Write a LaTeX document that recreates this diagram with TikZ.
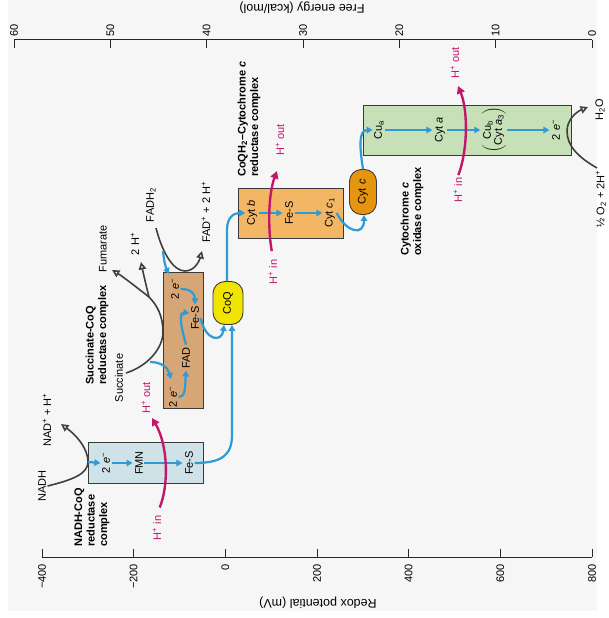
\documentclass[tikz,border=0pt]{standalone}
\usepackage{fontspec}
\setmainfont{Liberation Sans}
\usetikzlibrary{arrows.meta}
\definecolor{bg}{HTML}{F6F6F6}
\definecolor{eblue}{HTML}{2E9AD6}
\definecolor{mag}{HTML}{C2186C}
\definecolor{arcgray}{HTML}{404040}
\definecolor{boxline}{HTML}{3A3A3A}
\definecolor{nadhfill}{HTML}{CFE2E8}
\definecolor{succfill}{HTML}{D7A676}
\definecolor{cytbfill}{HTML}{F3B664}
\definecolor{cytcfill}{HTML}{E5950F}
\definecolor{coqfill}{HTML}{F0E400}
\definecolor{oxfill}{HTML}{C7E0B7}
\begin{document}
\begin{tikzpicture}[x=1pt,y=-1pt,
  lbl/.style={rotate=90,font=\fontsize{11}{12}\selectfont,inner sep=1.5pt},
  blbl/.style={rotate=90,font=\fontsize{11}{12.5}\selectfont\bfseries,align=left,inner sep=0pt},
  hlbl/.style={lbl,text=mag},
  barr/.style={draw=eblue,line width=2.2pt,-{Triangle[length=6pt,width=6.5pt]}},
  harr/.style={draw=mag,line width=2.4pt,-{Triangle[length=7.5pt,width=8pt]}},
  carr/.style={draw=arcgray,line width=1.6pt,-{Triangle[open,length=7.5pt,width=7.5pt]}},
  cline/.style={draw=arcgray,line width=1.6pt},
  cbox/.style={draw=boxline,line width=0.9pt,inner sep=0pt},
  pill/.style={draw=boxline,line width=0.9pt,rotate=90,rounded corners=12pt,font=\fontsize{11}{12}\selectfont,inner sep=0pt},
  axisline/.style={draw=black!85,line width=1pt},
  tick/.style={rotate=90,font=\fontsize{11}{12}\selectfont,inner sep=0pt},
  atitle/.style={rotate=180,font=\fontsize{12.5}{14}\selectfont}
]
\useasboundingbox (0,0) rectangle (609,618);
\fill[bg] (8,0) rectangle (597,611);

% ---------- top axis ----------
\draw[axisline] (14,40) -- (592,40);
\foreach \v [count=\i from 0] in {60,50,40,30,20,10,0}{
  \pgfmathsetmacro{\xx}{14+\i*96.333}
  \draw[axisline] (\xx,40) -- (\xx,48);
  \node[tick,anchor=west] (top\i) at (\xx,37) {\v};
}
\node[atitle] (ftitle) at (302,8) {Free energy (kcal/mol)};

% ---------- bottom axis ----------
\draw[axisline] (42,557) -- (592,557);
\foreach \v [count=\i from 0] in {−400,−200,0,200,400,600,800}{
  \pgfmathsetmacro{\xx}{42+\i*91.667}
  \draw[axisline] (\xx,557) -- (\xx,549);
  \node[tick,anchor=east] (bot\i) at (\xx,564) {\v};
}
\node[atitle] (rtitle) at (318,603) {Redox potential (mV)};

% ---------- NADH-CoQ reductase complex ----------
\node[cbox,fill=nadhfill,minimum width=115pt,minimum height=41pt] (nadhbox) at (145.5,462.5) {};
\node[lbl] (ne) at (106,463) {2 \textit{e}\textsuperscript{−}};
\node[lbl] (fmn) at (139,463) {FMN};
\node[lbl] (nfes) at (189,463) {Fe-S};
\node[lbl] (nadh) at (42,486) {NADH};
\node[lbl] (nadp) at (47,420) {NAD\textsuperscript{+} + H\textsuperscript{+}};
\node[blbl,anchor=west] (nadhlbl) at (92,547) {NADH-CoQ\\reductase\\complex};
\coordinate (nadhapex) at (88,462);
\coordinate (nadhtip) at (61,424);
\draw[carr] (nadh.south) .. controls (72,480) and (88,474) .. (nadhapex) .. controls (88,448) and (76,435) .. (nadhtip);
\draw[barr] (nadhapex) -- (ne.north);
\draw[barr,shorten >=1pt] (ne.south) -- (fmn.north);
\draw[barr,shorten >=1pt] (fmn.south) -- (nfes.north);

% ---------- Succinate-CoQ reductase complex ----------
\node[cbox,fill=succfill,minimum width=40pt,minimum height=136pt] (succbox) at (183,340) {};
\node[lbl] (se1) at (173,397) {2 \textit{e}\textsuperscript{−}};
\node[lbl] (fad) at (186,358) {FAD};
\node[lbl] (se2) at (175,289) {2 \textit{e}\textsuperscript{−}};
\node[lbl] (sfes) at (195,318) {Fe-S};
\node[lbl] (succ) at (119,378) {Succinate};
\node[lbl] (fum) at (103,249) {Fumarate};
\node[lbl] (twoh) at (135,244) {2 H\textsuperscript{+}};
\node[lbl] (fadh2) at (151,205) {FADH\textsubscript{2}};
\node[lbl] (fadp) at (206,212) {FAD\textsuperscript{+} + 2 H\textsuperscript{+}};
\node[blbl,anchor=west] (succlbl) at (97,385) {Succinate-CoQ\\reductase complex};
\coordinate (succs) at (126,373);
\coordinate (succapex) at (163,332);
\coordinate (succbr) at (149,297);
\coordinate (fumtip) at (112,270);
\coordinate (twohtip) at (141,262);
\draw[cline] (succs) .. controls (148,366) and (163,348) .. (succapex) .. controls (163,316) and (157,305) .. (succbr);
\draw[carr] (succbr) .. controls (135,286) and (122,276) .. (fumtip);
\draw[carr] (succbr) .. controls (146,285) and (143,272) .. (twohtip);
\coordinate (fadhs) at (156,228);
\coordinate (fadhapex) at (185,271);
\coordinate (fadptip) at (202,251);
\draw[carr] (fadhs) .. controls (163,255) and (174,271) .. (fadhapex) .. controls (194,271) and (199,262) .. (fadptip);
\coordinate (sa1) at (150,362);
\coordinate (sa1tip) at (171,379);
\draw[barr] (sa1) .. controls (162,362) and (168,368) .. (sa1tip);
\draw[barr] (se1.south) .. controls (185,397) and (185,390) .. (fad.west);
\draw[barr] ([yshift=1pt]fad.east) .. controls (179,320) and (180,312) .. ([yshift=5pt]sfes.north);
\draw[barr] (se2.south) .. controls (190,289) and (195,293) .. (sfes.east);
\coordinate (fb1) at (163,251);
\coordinate (fb1tip) at (169,274);
\draw[barr] (fb1) .. controls (164,262) and (166,268) .. (fb1tip);

% ---------- CoQ ----------
\node[pill,fill=coqfill,minimum width=43pt,minimum height=30pt] (coq) at (228,303) {CoQ};
\draw[barr] (nfes.south) .. controls (222,463) and (232,455) .. (232,435) -- ([xshift=4pt]coq.west);
\draw[barr] (sfes.south) .. controls (206,342) and (222,342) .. ([xshift=-4pt]coq.west);

% ---------- CoQH2-cytochrome c reductase complex ----------
\node[cbox,fill=cytbfill,minimum width=105pt,minimum height=50pt] (cytbbox) at (290.5,213) {};
\node[lbl] (cytb) at (252,213) {Cyt \textit{b}};
\node[lbl] (bfes) at (289,213) {Fe-S};
\node[lbl] (cytc1) at (330,213) {Cyt \textit{c}\textsubscript{1}};
\node[blbl,anchor=west] (cytblbl) at (249,177) {CoQH\textsubscript{2}–Cytochrome \textit{c}\\reductase complex};
\draw[barr] ([xshift=-1pt]coq.east) -- (227,230) .. controls (227,217) and (234,213) .. (cytb.north);
\draw[barr,shorten >=1pt] (cytb.south) -- (bfes.north);
\draw[barr,shorten >=1pt] (bfes.south) -- (cytc1.north);

% ---------- Cytochrome c ----------
\node[pill,fill=cytcfill,minimum width=45pt,minimum height=27pt] (cytc) at (363,192) {Cyt \textit{c}};
\draw[barr] (cytc1.south) .. controls (347,233) and (364,236) .. ([xshift=1pt]cytc.west);

% ---------- Cytochrome c oxidase complex ----------
\node[cbox,fill=oxfill,minimum width=208pt,minimum height=50pt] (oxbox) at (467,130.5) {};
\node[lbl] (cua) at (379,130) {Cu\textsubscript{a}};
\node[lbl] (cyta) at (440,130) {Cyt \textit{a}};
\node[lbl,inner sep=0.5pt] (cub) at (494,130) {$\left(\vcenter{\hbox{\begin{tabular}{@{}c@{}}Cu\textsubscript{b}\\[-1pt]Cyt \textit{a}\textsubscript{3}\end{tabular}}}\right)$};
\node[lbl] (oe) at (556,130) {2 \textit{e}\textsuperscript{−}};
\node[blbl,anchor=west] (oxlbl) at (412,256) {Cytochrome \textit{c}\\oxidase complex};
\node[lbl] (o2) at (601,199) {½ O\textsubscript{2} + 2H\textsuperscript{+}};
\node[lbl] (h2o) at (600,110) {H\textsubscript{2}O};
\draw[barr] (cytc.east) .. controls (360,150) and (358,130) .. (cua.north);
\draw[barr,shorten >=1pt] (cua.south) -- (cyta.north);
\draw[barr,shorten >=1pt] (cyta.south) -- (cub.north);
\draw[barr,shorten >=1pt] (cub.south) -- (oe.north);
\coordinate (o2s) at (597,168);
\coordinate (o2apex) at (567,131);
\coordinate (h2otip) at (588,107);
\draw[carr] (o2s) .. controls (578,157) and (567,146) .. (o2apex) .. controls (567,120) and (576,112) .. (h2otip);

% ---------- proton pumping ----------
\node[hlbl] (hin1) at (157,528) {H\textsuperscript{+} in};
\node[hlbl] (hout1) at (146,398) {H\textsuperscript{+} out};
\coordinate (hout1tip) at (152,418);
\draw[harr,shorten <=7pt] (hin1.east) .. controls (169,485) and (168,445) .. (hout1tip);
\node[hlbl] (hin2) at (273,272) {H\textsuperscript{+} in};
\node[hlbl] (hout2) at (280,140) {H\textsuperscript{+} out};
\coordinate (hout2tip) at (277,171);
\draw[harr,shorten <=7pt] (hin2.east) .. controls (268,230) and (268,195) .. (hout2tip);
\node[hlbl] (hin3) at (458,190) {H\textsuperscript{+} in};
\node[hlbl] (hout3) at (455,63) {H\textsuperscript{+} out};
\coordinate (hout3tip) at (458,86);
\draw[harr,shorten <=1pt] (hin3.east) .. controls (468,150) and (468,110) .. (hout3tip);
\end{tikzpicture}
\end{document}
